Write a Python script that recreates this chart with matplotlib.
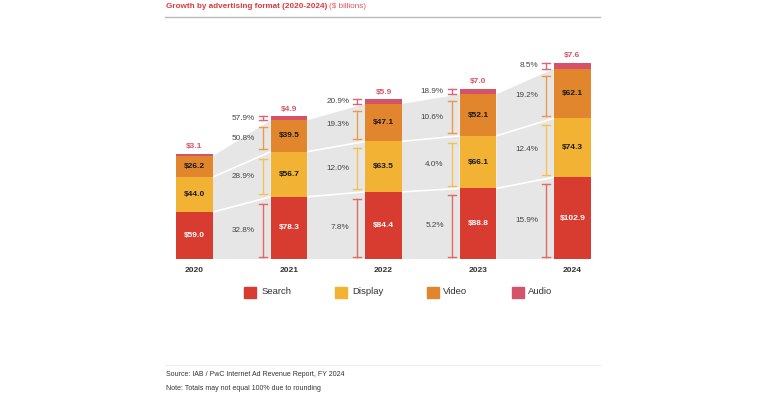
import matplotlib
matplotlib.use("Agg")
import matplotlib.pyplot as plt
from matplotlib.patches import Rectangle, Polygon

plt.rcParams['font.family'] = ['Liberation Sans', 'DejaVu Sans']

years = ['2020', '2021', '2022', '2023', '2024']
search = [59.0, 78.3, 84.4, 88.8, 102.9]
display = [44.0, 56.7, 63.5, 66.1, 74.3]
video = [26.2, 39.5, 47.1, 52.1, 62.1]
audio = [3.1, 4.9, 5.9, 7.0, 7.6]

# year-over-year growth, 2021..2024
search_g = ['32.8%', '7.8%', '5.2%', '15.9%']
display_g = ['28.9%', '12.0%', '4.0%', '12.4%']
video_g = ['50.8%', '19.3%', '10.6%', '19.2%']
audio_g = ['57.9%', '20.9%', '18.9%', '8.5%']

names = ['Search', 'Display', 'Video', 'Audio']
colors = ['#D83B30', '#F2B233', '#E2862D', '#D4536A']
br_colors = ['#E06A62', '#F3C253', '#E89A48', '#DB6679']
txt_colors = ['white', '#1a1a1a', '#1a1a1a']

W, H = 758, 397
fig = plt.figure(figsize=(W / 100, H / 100), dpi=100)
ax = fig.add_axes([0, 0, 1, 1])
ax.axis('off')

# pixel layout of the plot area
x0px, xstep = 194.5, 94.5
base_px, yscale = 259, 0.795
ax.set_xlim(-x0px / xstep, (W - x0px) / xstep)
ax.set_ylim(-(H - base_px) / yscale, base_px / yscale)
pxu = 1 / xstep  # one pixel in x data units
pyu = 1 / yscale  # one pixel in y data units

bw = 36.5 * pxu
xs = list(range(len(years)))
segs = [search, display, video, audio]
bottoms = [[0] * 5]
for s in segs:
    bottoms.append([b + v for b, v in zip(bottoms[-1], s)])

# gray bands between bars
for i in range(4):
    xa, xb = xs[i] + bw / 2, xs[i + 1] - bw / 2
    ax.add_patch(Polygon([(xa, 0), (xb, 0), (xb, bottoms[3][i + 1]), (xa, bottoms[3][i])],
                         closed=True, fc='#E6E6E6', ec='none', zorder=1))
    for k in (1, 2):
        ax.plot([xa, xb], [bottoms[k][i], bottoms[k][i + 1]], color='white', lw=1.2, zorder=2)

# stacked bars
for k, s in enumerate(segs):
    ax.bar(xs, s, bw, bottom=bottoms[k], color=colors[k], zorder=3, linewidth=0)

for i, x in enumerate(xs):
    for k in range(3):
        ax.text(x, bottoms[k][i] + segs[k][i] / 2, '$%.1f' % segs[k][i], ha='center', va='center',
                fontsize=6.0, fontweight='bold', color=txt_colors[k], zorder=4)
    ax.text(x, bottoms[4][i] + 7 * pyu, '$%.1f' % audio[i], ha='center', va='center',
            fontsize=6.0, fontweight='bold', color='#D9546A', zorder=4)
    ax.text(x, -11 * pyu, years[i], ha='center', va='center', fontsize=6.0,
            fontweight='bold', color='#333333', zorder=4)

# growth brackets
growth = [search_g, display_g, video_g, audio_g]
for i in range(1, 5):
    bx = xs[i] - bw / 2 - 8 * pxu
    cap = 4 * pxu
    for k in range(4):
        lo, hi = bottoms[k][i], bottoms[k + 1][i]
        if k < 3:
            lo, hi = lo + 2.5 * pyu, hi - 7 * pyu
        ax.plot([bx, bx], [lo, hi], color=br_colors[k], lw=1, zorder=4)
        ax.plot([bx - cap, bx + cap], [lo, lo], color=br_colors[k], lw=1, zorder=4)
        ax.plot([bx - cap, bx + cap], [hi, hi], color=br_colors[k], lw=1, zorder=4)
        ax.text(bx - 8 * pxu, (lo + hi) / 2, growth[k][i - 1], ha='right', va='center',
                fontsize=5.9, color='#444444', zorder=4)

# title
fx = lambda p: p / W
fy = lambda p: 1 - p / H
t1 = fig.text(fx(166), fy(7), 'Growth by advertising format (2020-2024)', fontsize=5.9,
              fontweight='bold', color='#E0383B', ha='left', va='center')
fig.canvas.draw()
bb = t1.get_window_extent()
fig.text(bb.x1 / W + fx(2), fy(7), '($ billions)', fontsize=5.9, color='#E2575A',
         ha='left', va='center')
fig.add_artist(plt.Line2D([fx(165), fx(600)], [fy(16.5), fy(16.5)], color='#BBBBBB', lw=1))

# legend
sq_x = [244, 335, 427, 512]
tx_x = [262, 352, 443, 528]
for k in range(4):
    fig.add_artist(Rectangle((fx(sq_x[k]), fy(297.5)), fx(11.5), 11 / H, color=colors[k],
                             transform=fig.transFigure))
    fig.text(fx(tx_x[k]), fy(292), names[k], fontsize=6.8, color='#333333', ha='left', va='center')

# footer
fig.add_artist(plt.Line2D([fx(165), fx(600)], [fy(365), fy(365)], color='#EEEEEE', lw=0.8))
fig.text(fx(166), fy(375), 'Source: IAB / PwC Internet Ad Revenue Report, FY 2024', fontsize=5.0,
         color='#333333', ha='left', va='center')
fig.text(fx(166), fy(388), 'Note: Totals may not equal 100% due to rounding', fontsize=5.0,
         color='#333333', ha='left', va='center')

fig.savefig('out.png', dpi=100, facecolor='white')
